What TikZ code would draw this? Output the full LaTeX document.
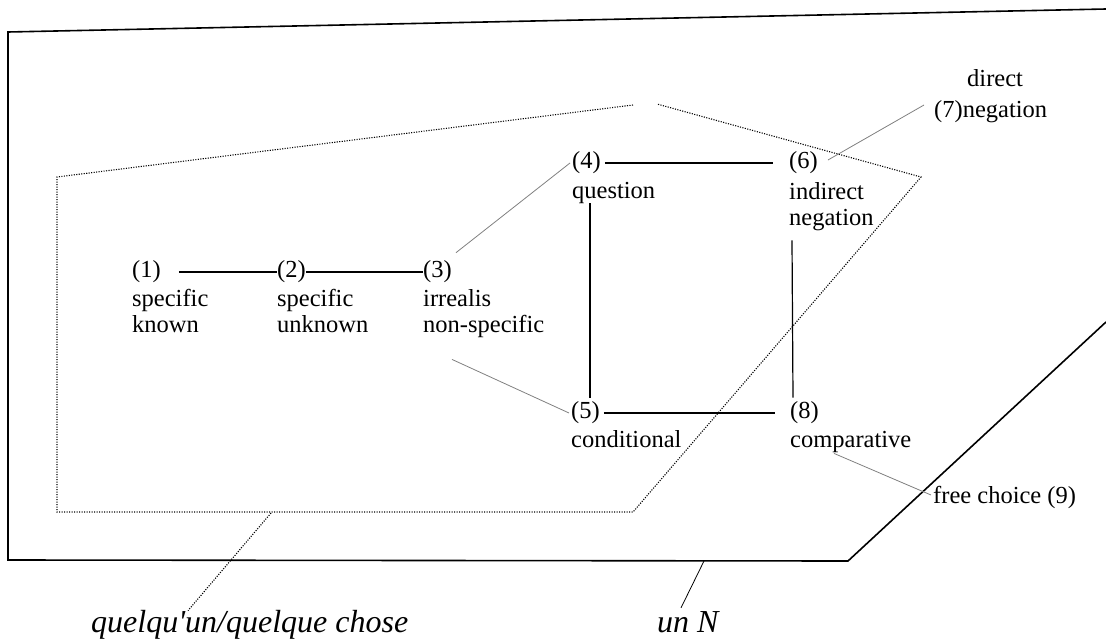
\documentclass[tikz,border=0pt]{standalone}
\usepackage{fontspec}
\setmainfont{Liberation Serif}
\newfontfamily\qqfont[Ligatures=TeXOff]{Liberation Serif}
\begin{document}
\begin{tikzpicture}[x=1pt,y=-1pt,
  lab/.style={font=\fontsize{24.5}{27}\selectfont, inner sep=0pt, anchor=base west},
  num/.style={font=\fontsize{24.5}{27}\selectfont, inner sep=0pt, anchor=west},
  ital/.style={font=\qqfont\fontsize{32}{35}\selectfont\itshape, inner sep=0pt, anchor=base west},
  link/.style={line width=1.2pt},
  glink/.style={line width=0.8pt, gray},
  outer/.style={line width=1.6pt},
  dots/.style={line width=1.1pt, dash pattern=on 1.1pt off 1.4pt}]
\useasboundingbox (0,0) rectangle (1106,642);
% outer solid region
\draw[outer] (1106,9) -- (8,32) -- (8,560) -- (848,561) -- (1106,322);
% dotted region
\draw[dots] (633,105) -- (57,177) -- (57,512) -- (633,512) -- (921,177) -- (657,104);
% nodes
\node[num] (n1) at (132,272) {(1)};
\node[lab] (l1a) at (132,306) {specific};
\node[lab] (l1b) at (132,332) {known};
\node[num] (n2) at (277,272) {(2)};
\node[lab] (l2a) at (277,306) {specific};
\node[lab] (l2b) at (277,332) {unknown};
\node[num] (n3) at (423,272) {(3)};
\node[lab] (l3a) at (423,306) {irrealis};
\node[lab] (l3b) at (423,332) {non-specific};
\node[num] (n4) at (572,163) {(4)};
\node[lab] (l4) at (572,198) {question};
\node[num] (n6) at (789,163) {(6)};
\node[lab] (l6a) at (789,199) {indirect};
\node[lab] (l6b) at (789,225) {negation};
\node[num] (n5) at (571,413) {(5)};
\node[lab] (l5) at (571,447) {conditional};
\node[num] (n8) at (790,413) {(8)};
\node[lab] (l8) at (790,447) {comparative};
\node[lab] (l7a) at (967,86) {direct};
\node[num] (n7) at (934,112) {(7)negation};
\node[num] (n9) at (933,497) {free choice (9)};
\node[ital] (qq) at (91,632) {quelqu'un/quelque chose};
\node[ital] (un) at (657,632) {un N};
% coordinates on region borders
\coordinate (qtop) at (271,513);
\coordinate (utop) at (704,561);
% black connectors
\draw[link] ([xshift=18pt]n1.east) -- (n2.west);
\draw[link] (n2.east) -- (n3.west);
\draw[link] ([xshift=4pt]n4.east) -- ([xshift=-16pt]n6.west);
\draw[link] ([xshift=4pt]n5.east) -- ([xshift=-15pt]n8.west);
\draw[link] ([xshift=18pt]l4.south west) -- ([xshift=19pt,yshift=4pt]n5.north west);
\draw[link] ([xshift=3pt,yshift=-10pt]l6b.south west) -- ([xshift=3pt,yshift=4pt]n8.north west);
% grey connectors
\draw[glink] ([shift={(4pt,8pt)}]n3.north east) -- ([xshift=-2pt]n4.west);
\draw[glink] ([shift={(29pt,-22pt)}]l3b.south west) -- ([xshift=-2pt]n5.west);
\draw[glink] ([xshift=10pt,yshift=3pt]n6.east) -- ([xshift=-10pt,yshift=7pt]n7.west);
\draw[glink] ([xshift=44pt,yshift=-1pt]l8.south west) -- ([xshift=-2pt,yshift=2pt]n9.west);
% label pointers
\draw[dots] (qtop) -- ([shift={(97pt,-1pt)}]qq.north west);
\draw[line width=0.8pt] (utop) -- ([shift={(24pt,3pt)}]un.north west);
\end{tikzpicture}
\end{document}
